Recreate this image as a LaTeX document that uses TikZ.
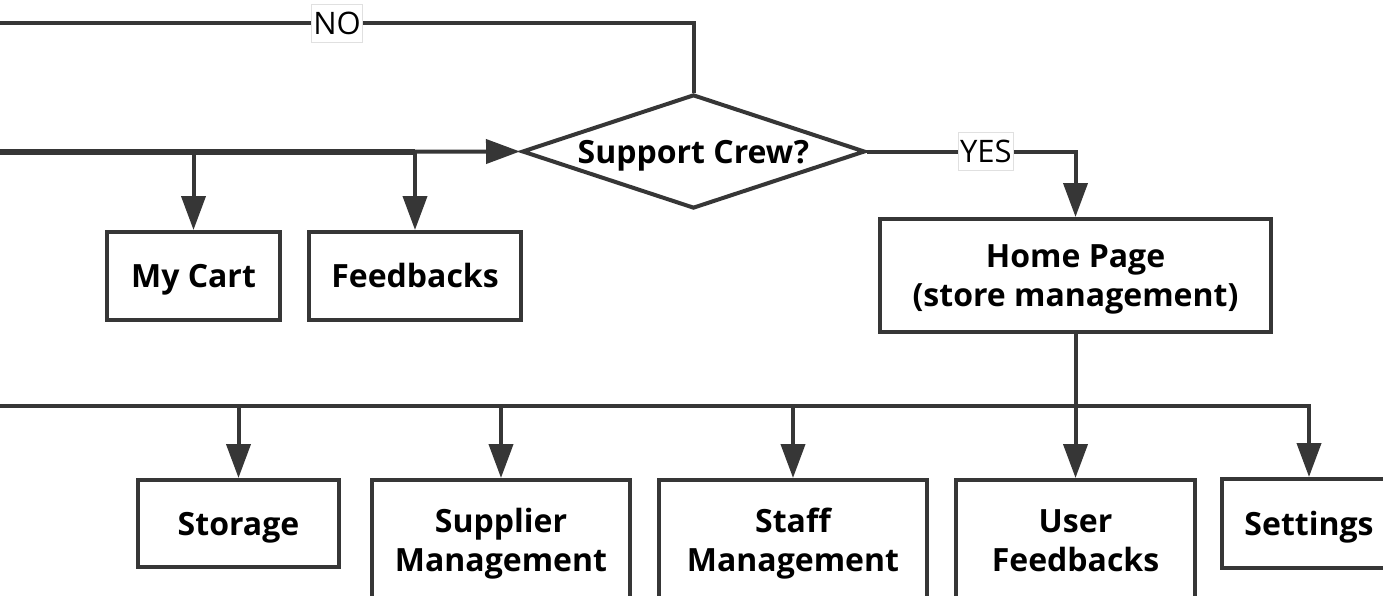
\documentclass[tikz,border=0pt]{standalone}
\usepackage{fontspec}
\setmainfont{Open Sans}
\usetikzlibrary{arrows.meta,shapes.geometric}
\definecolor{ink}{RGB}{54,54,54}
\begin{document}
\begin{tikzpicture}[x=1pt,y=-1pt,
  every node/.style={inner sep=0pt},
  conn/.style={draw=ink,line width=4pt},
  arr/.style={conn,-{Triangle[length=34pt,width=24pt]}},
  box/.style={draw=ink,line width=4pt,fill=white,align=center,text=black,
    font=\fontsize{32}{39}\selectfont\bfseries},
  oneline/.style={text height=23pt,text depth=0pt},
  twoline/.style={text height=62pt,text depth=0pt},
  decision/.style={draw=ink,line width=4pt,fill=white,shape=diamond},
  caption/.style={text=black,font=\fontsize{32}{39}\selectfont\bfseries,
    text height=23pt,text depth=0pt},
  lbl/.style={fill=white,draw=black!12,line width=0.6pt,text=black,
    font=\fontsize{31}{36}\selectfont,inner xsep=1.5pt,inner ysep=8pt,
    text height=22pt,text depth=0pt},
]
\useasboundingbox (0,0) rectangle (1383,595);

% decision
\node[decision,minimum width=343pt,minimum height=114pt] (dia) at (693.5,151.5) {};
\node[caption] (diatext) at (dia.center) {Support Crew?};

% customer side
\node[box,oneline,minimum width=173pt,minimum height=88pt] (mycart) at (193.5,276) {My Cart};
\node[box,oneline,minimum width=212pt,minimum height=88pt] (feedbacks) at (415,276) {Feedbacks};

% store management side
\node[box,twoline,minimum width=391pt,minimum height=113pt] (home) at (1075.5,275.5) {Home Page\\(store management)};
\node[box,oneline,minimum width=201pt,minimum height=87pt] (storage) at (238.5,523.5) {Storage};
\node[box,twoline,minimum width=258pt,minimum height=120pt] (supplier) at (501,540) {Supplier\\Management};
\node[box,twoline,minimum width=268pt,minimum height=120pt] (staff) at (793,540) {Staff\\Management};
\node[box,twoline,minimum width=239pt,minimum height=120pt] (userfb) at (1075.5,540) {User\\Feedbacks};
\node[box,oneline,minimum width=174pt,minimum height=89pt] (settings) at (1309,523.5) {Settings};

% loose ends of the lines entering from the left
\coordinate (noL) at (0,23);
\coordinate (mainL) at (0,152);
\coordinate (busL) at (0,406);

% connectors
\draw[conn] (noL) -| node[lbl,pos=0.243] (no) {NO} (dia.north);
\draw[conn,line width=6.5pt] (mainL) -- (mainL -| feedbacks.north);
\draw[arr] (mainL) -- (dia.west);
\draw[arr] (mainL -| mycart.north) -- (mycart.north);
\draw[arr] (mainL -| feedbacks.north) -- (feedbacks.north);
\draw[arr] (dia.east) -| node[lbl,pos=0.285] (yes) {YES} (home.north);

\draw[arr] (home.south) -- (userfb.north);
\draw[arr] (busL) -| (settings.north);
\draw[arr] (busL -| storage.north) -- (storage.north);
\draw[arr] (busL -| supplier.north) -- (supplier.north);
\draw[arr] (busL -| staff.north) -- (staff.north);
\end{tikzpicture}
\end{document}
